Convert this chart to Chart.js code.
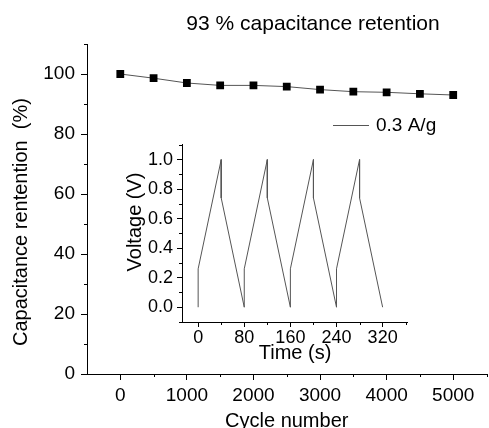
<!DOCTYPE html>
<html>
<head>
<meta charset="utf-8">
<script src="https://cdn.jsdelivr.net/npm/chart.js@4.4.1/dist/chart.umd.min.js"></script>
<style>
    html, body { margin: 0; padding: 0; background: #fff; overflow: hidden; }
    #wrap { position: relative; width: 489px; height: 428px; overflow: hidden; }
    #main { position: absolute; left: 0; top: 0; }
    #inset { position: absolute; left: 120px; top: 130px; }
</style>
</head>
<body>
<div id="wrap">
    <canvas id="main" width="492" height="428"></canvas>
    <canvas id="inset" width="288" height="240"></canvas>
</div>
<script>
// Hovedgraf: kapasitansretensjon mot syklusnummer
const cycles = [0, 500, 1000, 1500, 2000, 2500, 3000, 3500, 4000, 4500, 5000];
const retention = [100, 98.6, 97.0, 96.2, 96.2, 95.8, 94.8, 94.1, 93.9, 93.4, 93.0];
const cycleTicks = [0, 1000, 2000, 3000, 4000, 5000];
const cycleMinor = [500, 1500, 2500, 3500, 4500, 5500];
const retentionTicks = [0, 20, 40, 60, 80, 100];
const retentionMinor = [10, 30, 50, 70, 90, 110];

// Innfelt graf: spenning mot tid (lade/utlade)
const timeS = [0, 0, 40, 40, 80, 80, 120, 120, 160, 160, 200, 200, 240, 240, 280, 280, 320];
const voltage = [0, 0.26, 1.0, 0.74, 0, 0.26, 1.0, 0.74, 0, 0.26, 1.0, 0.74, 0, 0.26, 1.0, 0.74, 0];
const timeTicks = [0, 80, 160, 240, 320];
const timeMinor = [40, 120, 200, 280, 360];
const voltTicks = [0, 0.2, 0.4, 0.6, 0.8, 1.0];
const voltMinor = [-0.1, 0.1, 0.3, 0.5, 0.7, 0.9, 1.1];

const titleText = '93 % capacitance retention';
const legendLabel = '0.3 A/g';
const FONT = '"Liberation Sans", Arial, sans-serif';

// Tegner små mellomstreker på aksene
const minorTickPlugin = {
    id: 'minorTicks',
    afterDraw(chart, args, opts) {
        const ctx = chart.ctx;
        ctx.save();
        ctx.strokeStyle = '#000';
        ctx.lineWidth = 1;
        Object.keys(opts.values || {}).forEach(id => {
            const scale = chart.scales[id];
            opts.values[id].forEach(v => {
                if (v < scale.min || v > scale.max) return;
                const p = Math.round(scale.getPixelForValue(v)) + 0.5;
                ctx.beginPath();
                if (scale.isHorizontal()) {
                    ctx.moveTo(p, scale.top);
                    ctx.lineTo(p, scale.top + opts.length);
                } else {
                    ctx.moveTo(scale.right - opts.length, p);
                    ctx.lineTo(scale.right, p);
                }
                ctx.stroke();
            });
        });
        ctx.restore();
    }
};

// Tekster som ikke ligger i en akse: tittel, y-titler og forklaring
const textPlugin = {
    id: 'extraText',
    afterDraw(chart, args, opts) {
        const ctx = chart.ctx;
        ctx.save();
        ctx.fillStyle = '#000';
        (opts.items || []).forEach(t => {
            ctx.save();
            ctx.font = t.size + 'px ' + FONT;
            ctx.translate(t.x, t.y);
            if (t.rotate) ctx.rotate(-Math.PI / 2);
            ctx.textAlign = t.align || 'center';
            ctx.textBaseline = t.baseline || 'middle';
            ctx.fillText(t.text, 0, 0);
            ctx.restore();
        });
        if (opts.legend) {
            const lg = opts.legend;
            const ds = chart.data.datasets[0];
            ctx.strokeStyle = ds.borderColor;
            ctx.lineWidth = 1;
            ctx.beginPath();
            ctx.moveTo(lg.x, lg.y + 0.5);
            ctx.lineTo(lg.x + lg.w, lg.y + 0.5);
            ctx.stroke();
            ctx.font = lg.size + 'px ' + FONT;
            ctx.textAlign = 'left';
            ctx.textBaseline = 'middle';
            ctx.fillText(ds.label, lg.x + lg.w + 7, lg.y + 1);
        }
        ctx.restore();
    }
};

function axisStyle(tickLen) {
    return {
        grid: { display: true, drawOnChartArea: false, drawTicks: true, tickLength: tickLen, color: '#000', lineWidth: 1 },
        border: { display: true, color: '#000', width: 1 }
    };
}

// Hovedgraf
new Chart(document.getElementById('main'), {
    type: 'line',
    data: {
        datasets: [{
            label: legendLabel,
            data: cycles.map((c, i) => ({ x: c, y: retention[i] })),
            borderColor: '#555',
            borderWidth: 1,
            pointStyle: 'rect',
            pointRadius: 5.5,
            pointBackgroundColor: '#000',
            pointBorderColor: '#000',
            pointBorderWidth: 0,
            tension: 0
        }]
    },
    options: {
        responsive: false,
        animation: false,
        devicePixelRatio: 1,
        layout: { padding: { top: 44, right: 0, bottom: 0, left: 0 } },
        plugins: {
            legend: { display: false },
            tooltip: { enabled: false },
            minorTicks: { values: { x: cycleMinor, y: retentionMinor }, length: 3 },
            extraText: {
                items: [
                    { text: titleText, x: 313, y: 30, size: 21, baseline: 'alphabetic' },
                    { text: 'Capacitance rentention  (%)', x: 21, y: 222, size: 20, rotate: true }
                ],
                legend: { x: 333, y: 125, w: 36, size: 19 }
            }
        },
        scales: {
            x: {
                type: 'linear',
                min: -500,
                max: 5500,
                ...axisStyle(6),
                afterBuildTicks: s => { s.ticks = cycleTicks.map(v => ({ value: v })); },
                afterFit: s => { s.height = 54; },
                ticks: {
                    color: '#000',
                    padding: 4,
                    maxRotation: 0,
                    font: { family: FONT, size: 19 },
                    callback: v => String(v)
                },
                title: {
                    display: true,
                    text: 'Cycle number',
                    color: '#000',
                    font: { family: FONT, size: 20, lineHeight: 1 },
                    padding: { top: 0, bottom: -3 }
                }
            },
            y: {
                type: 'linear',
                min: 0,
                max: 110,
                ...axisStyle(6),
                afterBuildTicks: s => { s.ticks = retentionTicks.map(v => ({ value: v })); },
                afterFit: s => { s.width = 87; },
                ticks: {
                    color: '#000',
                    padding: 6,
                    font: { family: FONT, size: 19 },
                    callback: v => String(v)
                }
            }
        }
    },
    plugins: [minorTickPlugin, textPlugin]
});

// Innfelt graf
new Chart(document.getElementById('inset'), {
    type: 'line',
    data: {
        datasets: [{
            label: 'Voltage',
            data: timeS.map((t, i) => ({ x: t, y: voltage[i] })),
            borderColor: '#555',
            borderWidth: 1,
            pointRadius: 0,
            tension: 0
        }]
    },
    options: {
        responsive: false,
        animation: false,
        devicePixelRatio: 1,
        layout: { padding: { top: 8, right: 0, bottom: 0, left: 0 } },
        plugins: {
            legend: { display: false },
            tooltip: { enabled: false },
            minorTicks: { values: { x: timeMinor, y: voltMinor }, length: 3 },
            extraText: {
                items: [
                    { text: 'Voltage (V)', x: 15, y: 92, size: 20, rotate: true }
                ]
            }
        },
        scales: {
            x: {
                type: 'linear',
                min: -28,
                max: 364,
                ...axisStyle(5),
                afterBuildTicks: s => { s.ticks = timeTicks.map(v => ({ value: v })); },
                afterFit: s => { s.height = 48; },
                ticks: {
                    color: '#000',
                    padding: 0,
                    maxRotation: 0,
                    font: { family: FONT, size: 18 },
                    callback: v => String(v)
                },
                title: {
                    display: true,
                    text: 'Time (s)',
                    color: '#000',
                    font: { family: FONT, size: 20, lineHeight: 1 },
                    padding: { top: 0, bottom: 7 }
                }
            },
            y: {
                type: 'linear',
                min: -0.1,
                max: 1.1,
                ...axisStyle(5),
                afterBuildTicks: s => { s.ticks = voltTicks.map(v => ({ value: v })); },
                afterFit: s => { s.width = 62; },
                ticks: {
                    color: '#000',
                    padding: 4,
                    font: { family: FONT, size: 18 },
                    callback: v => v.toFixed(1)
                }
            }
        }
    },
    plugins: [minorTickPlugin, textPlugin]
});
</script>
</body>
</html>
